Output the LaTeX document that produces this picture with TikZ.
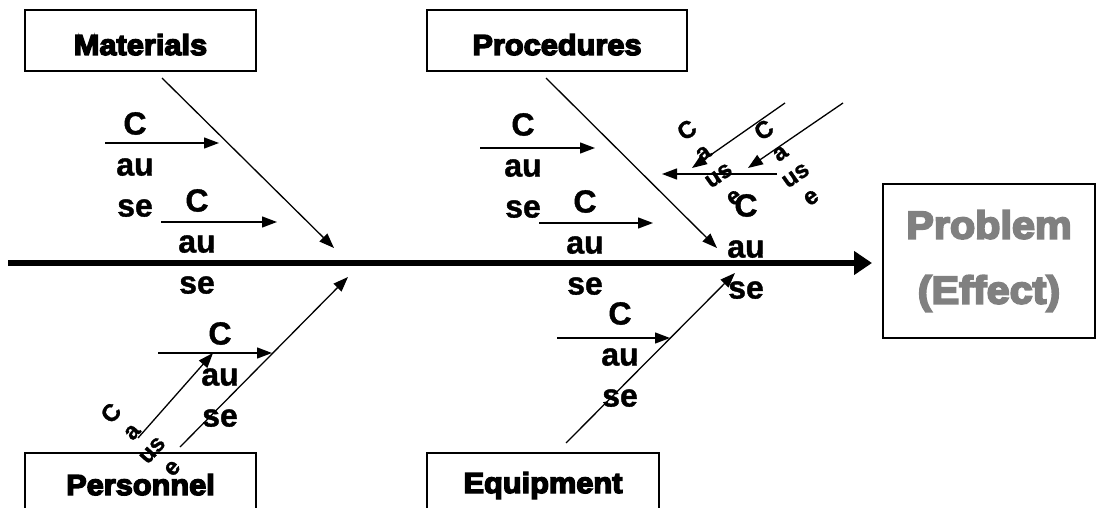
\documentclass[tikz,border=0pt]{standalone}
\usepackage{fontspec}
\setmainfont{Liberation Sans}
\newfontfamily\heavy{Liberation Sans}[FakeBold=5, FakeStretch=1.06]
\newfontfamily\causef{Liberation Sans}[FakeBold=1.2]
\usetikzlibrary{arrows.meta}
\definecolor{probgray}{HTML}{808080}
\begin{document}
\begin{tikzpicture}[x=1pt,y=-1pt,
  box/.style={draw, line width=1.4pt, inner sep=0pt},
  boxlbl/.style={font=\heavy\bfseries\fontsize{29}{36}\selectfont},
  cause/.style={font=\causef\bfseries\fontsize{32}{41}\selectfont, align=center, inner sep=0pt},
  tinycause/.style={font=\causef\bfseries\fontsize{24}{27}\selectfont, align=center, inner sep=0pt},
  bone/.style={line width=1.3pt, -{Triangle[length=15pt,width=11pt]}},
  spine/.style={line width=5.5pt, -{Triangle[length=18pt,width=23pt]}}]
\useasboundingbox (0,0) rectangle (1096,508);

% category boxes
\node[box, boxlbl, minimum width=231pt, text height=45pt, text depth=16pt] (mat) at (140.5,40.5) {Materials};
\node[box, boxlbl, minimum width=260pt, text height=45pt, text depth=16pt] (proc) at (557,40.5) {Procedures};
\node[box, boxlbl, minimum width=231pt, text height=42pt, text depth=25pt] (pers) at (140.5,486.5) {Personnel};
\node[box, boxlbl, minimum width=232pt, text height=40pt, text depth=27pt] (equip) at (543,486.5) {Equipment};
\node[box, line width=1.5pt, minimum width=212pt, minimum height=154pt, align=center,
      text=probgray, font=\heavy\bfseries\fontsize{39}{65}\selectfont] (prob) at (989,261) {Problem\\(Effect)};

% spine
\coordinate (tail) at (8,263);
\coordinate (head) at (872,263);
\draw[spine] (tail) -- (head);

% main bones
\coordinate (m0) at (162,78);   \coordinate (m1) at (334,248);
\coordinate (p0) at (546,78);   \coordinate (p1) at (717,248);
\coordinate (r0) at (180,447);  \coordinate (r1) at (348,277);
\coordinate (e0) at (566,443);  \coordinate (e1) at (735,273);
\draw[bone] (m0) -- (m1);
\draw[bone] (p0) -- (p1);
\draw[bone] (r0) -- (r1);
\draw[bone] (e0) -- (e1);

% cause arrows
\coordinate (ma0) at (105,143); \coordinate (ma1) at (219,143);
\coordinate (mb0) at (161,222); \coordinate (mb1) at (277,222);
\coordinate (ra0) at (158,353); \coordinate (ra1) at (272,353);
\coordinate (rb0) at (138,438); \coordinate (rb1) at (213,353);
\coordinate (pa0) at (480,148); \coordinate (pa1) at (595,148);
\coordinate (pb0) at (539,223); \coordinate (pb1) at (653,223);
\coordinate (pc0) at (777,174); \coordinate (pc1) at (662,174);
\coordinate (pd0) at (785,103); \coordinate (pd1) at (692,168);
\coordinate (pe0) at (843,103); \coordinate (pe1) at (748,168);
\coordinate (ea0) at (557,338); \coordinate (ea1) at (670,338);
\foreach \s/\t in {ma0/ma1, mb0/mb1, ra0/ra1, rb0/rb1, pa0/pa1, pb0/pb1, pc0/pc1, pd0/pd1, pe0/pe1, ea0/ea1}
  \draw[bone] (\s) -- (\t);

% cause texts
\node[cause] (tm1) at (135,164.5) {C\\au\\se};
\node[cause] (tm2) at (197,241.5) {C\\au\\se};
\node[cause] (tr1) at (220,374.5) {C\\au\\se};
\node[cause] (tp1) at (523,165.5) {C\\au\\se};
\node[cause] (tp2) at (585,242.5) {C\\au\\se};
\node[cause] (tp3) at (746,246.5) {C\\au\\se};
\node[cause] (te1) at (620,354.5) {C\\au\\se};

% rotated small cause texts
\node[tinycause, rotate=48] (sr1) at (141,440) {C\\a\\us\\e};
\node[tinycause, rotate=35] (sp1) at (710,163) {C\\a\\us\\e};
\node[tinycause, rotate=35] (sp2) at (787,163) {C\\a\\us\\e};
\end{tikzpicture}
\end{document}
